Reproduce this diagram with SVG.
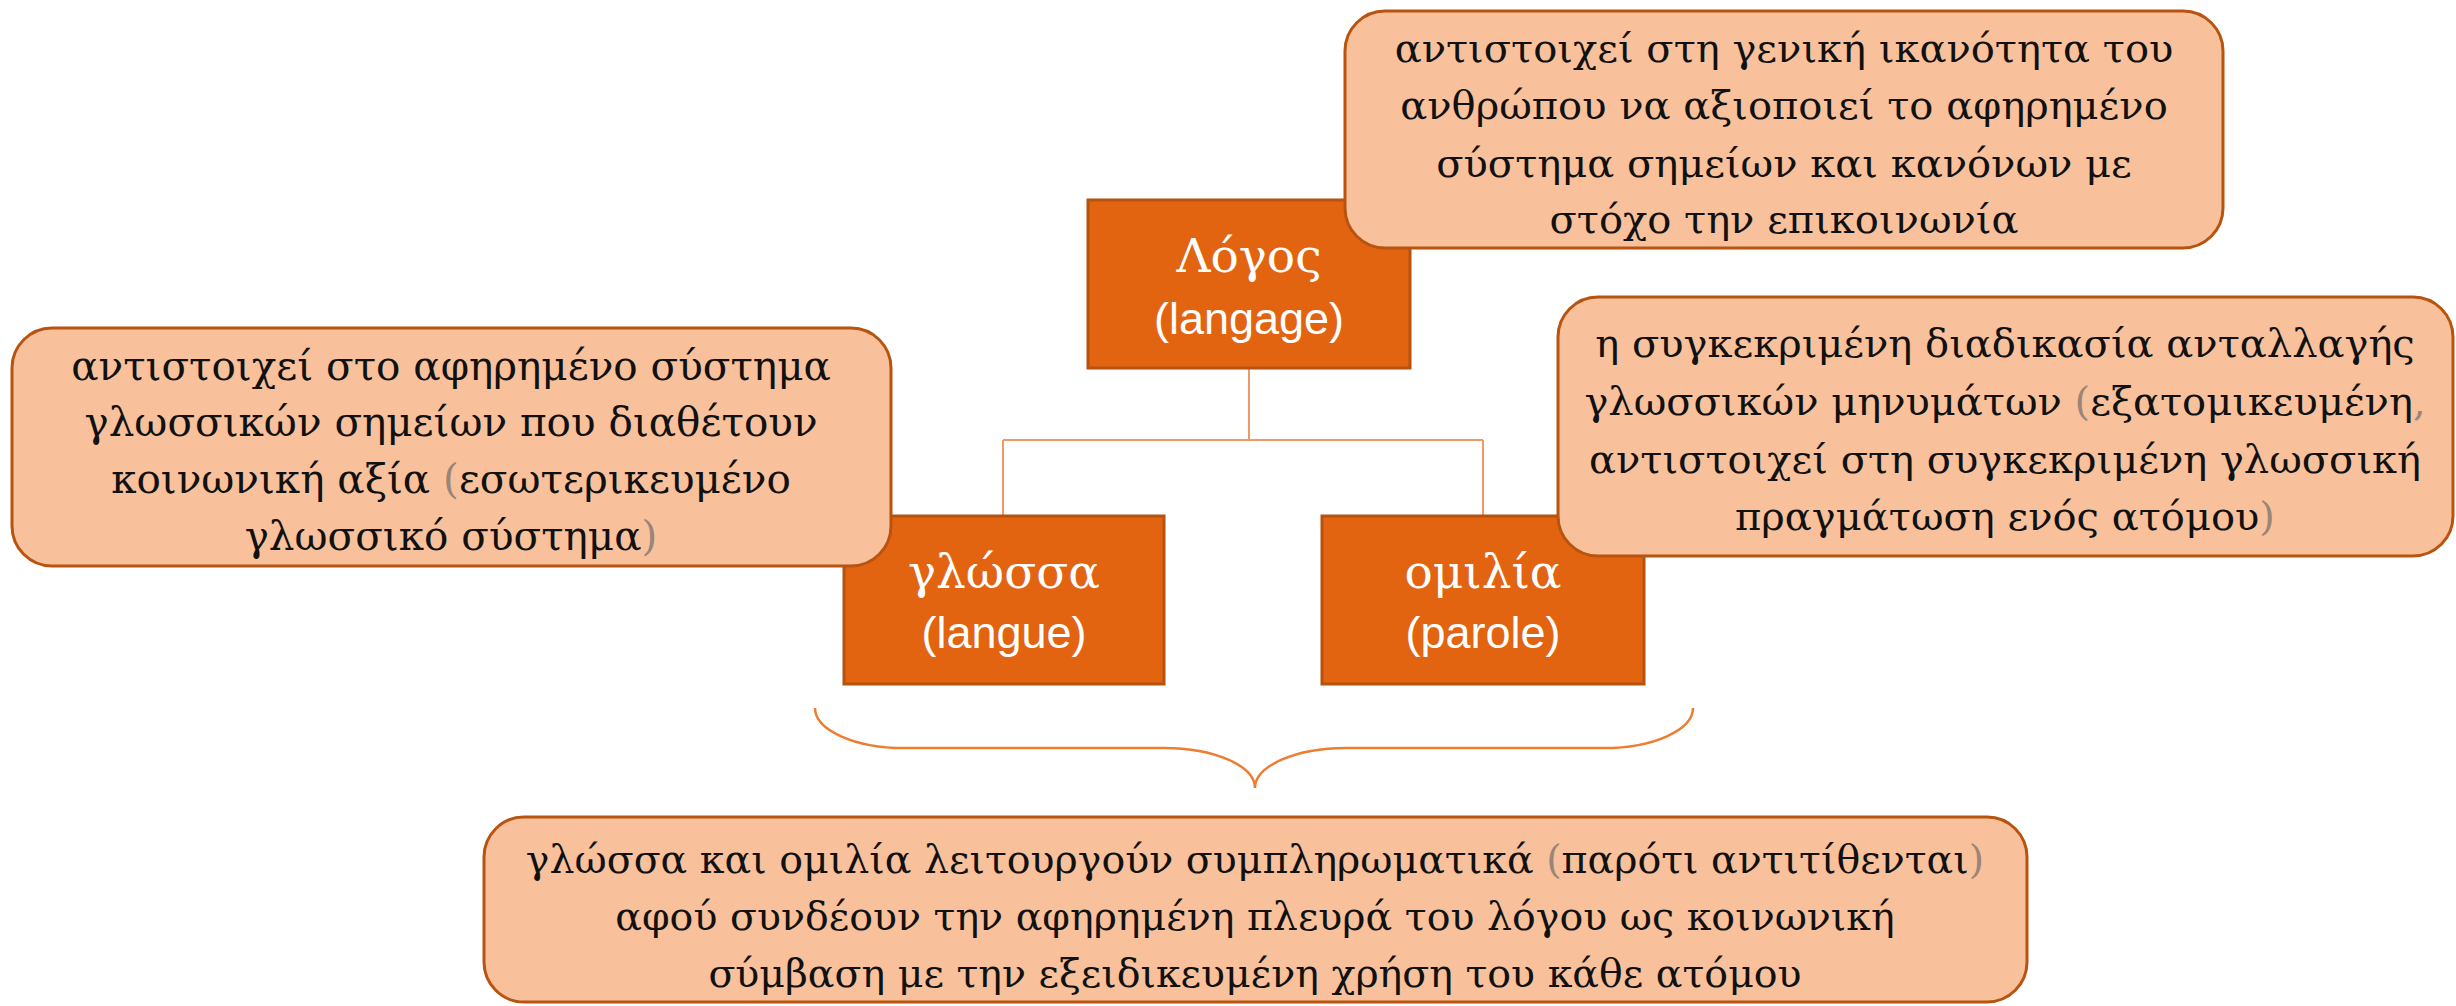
<svg xmlns="http://www.w3.org/2000/svg" width="2456" height="1006" viewBox="0 0 2456 1006">
<style>
.bg{fill:#ffffff}
.box{fill:#E36410;stroke:#B5520E;stroke-width:3}
.call{fill:#F8C19B;stroke:#B8540F;stroke-width:3}
.conn{fill:none;stroke:#EE9A62;stroke-width:2}
.brace{fill:none;stroke:#ED7D31;stroke-width:2.5}
.gk{font-family:"DejaVu Serif","Liberation Serif",serif;font-size:47px;fill:#ffffff;text-anchor:middle}
.lt{font-family:"Liberation Sans",Arial,sans-serif;font-size:45px;fill:#ffffff;text-anchor:middle}
.ct{font-family:"DejaVu Serif","Liberation Serif",serif;font-size:40.5px;fill:#111111;text-anchor:middle}
.t1{font-size:40px}
.t2{font-size:40px}
.t3{font-size:39.5px}
.p{fill:#9a8578}
</style>
<rect class="bg" x="0" y="0" width="2456" height="1006"/>
<g id="connectors">
<path class="conn" d="M1249,368 V440 M1003,440 H1483 M1003,440 V516 M1483,440 V516"/>
<path class="brace" d="M815,708 A89,40 0 0 0 904,748 L1164,748 A91,40 0 0 1 1255,788 A91,40 0 0 1 1346,748 L1604,748 A89,40 0 0 0 1693,708"/>
</g>
<g id="node-logos">
<rect class="box" x="1088" y="200" width="322" height="168"/>
<text class="gk" x="1249" y="272">Λόγος</text>
<text class="lt" x="1249" y="334">(langage)</text>
</g>
<g id="node-glossa">
<rect class="box" x="844" y="516" width="320" height="168"/>
<text class="gk" x="1004" y="588">γλώσσα</text>
<text class="lt" x="1004" y="648">(langue)</text>
</g>
<g id="node-omilia">
<rect class="box" x="1322" y="516" width="322" height="168"/>
<text class="gk" x="1483" y="588">ομιλία</text>
<text class="lt" x="1483" y="648">(parole)</text>
</g>
<g id="callout-logos">
<rect class="call" x="1345" y="11" width="878" height="237" rx="40" ry="40"/>
<text class="ct t1" x="1784" y="62">αντιστοιχεί στη γενική ικανότητα του</text>
<text class="ct t1" x="1784" y="119">ανθρώπου να αξιοποιεί το αφηρημένο</text>
<text class="ct t1" x="1784" y="177">σύστημα σημείων και κανόνων με</text>
<text class="ct t1" x="1784" y="233">στόχο την επικοινωνία</text>
</g>
<g id="callout-glossa">
<rect class="call" x="12" y="328" width="879" height="238" rx="40" ry="40"/>
<text class="ct" x="451" y="380">αντιστοιχεί στο αφηρημένο σύστημα</text>
<text class="ct" x="451" y="436">γλωσσικών σημείων που διαθέτουν</text>
<text class="ct" x="451" y="493">κοινωνική αξία <tspan class="p">(</tspan>εσωτερικευμένο</text>
<text class="ct" x="451" y="550">γλωσσικό σύστημα<tspan class="p">)</tspan></text>
</g>
<g id="callout-omilia">
<rect class="call" x="1558" y="297" width="895" height="259" rx="40" ry="40"/>
<text class="ct t2" x="2005" y="357">η συγκεκριμένη διαδικασία ανταλλαγής</text>
<text class="ct t2" x="2005" y="415">γλωσσικών μηνυμάτων <tspan class="p">(</tspan>εξατομικευμένη<tspan class="p">,</tspan></text>
<text class="ct t2" x="2005" y="473">αντιστοιχεί στη συγκεκριμένη γλωσσική</text>
<text class="ct t2" x="2005" y="530">πραγμάτωση ενός ατόμου<tspan class="p">)</tspan></text>
</g>
<g id="callout-summary">
<rect class="call" x="484" y="817" width="1543" height="185" rx="40" ry="40"/>
<text class="ct t3" x="1255" y="873">γλώσσα και ομιλία λειτουργούν συμπληρωματικά <tspan class="p">(</tspan>παρότι αντιτίθενται<tspan class="p">)</tspan></text>
<text class="ct t3" x="1255" y="930">αφού συνδέουν την αφηρημένη πλευρά του λόγου ως κοινωνική</text>
<text class="ct t3" x="1255" y="987">σύμβαση με την εξειδικευμένη χρήση του κάθε ατόμου</text>
</g>
</svg>
